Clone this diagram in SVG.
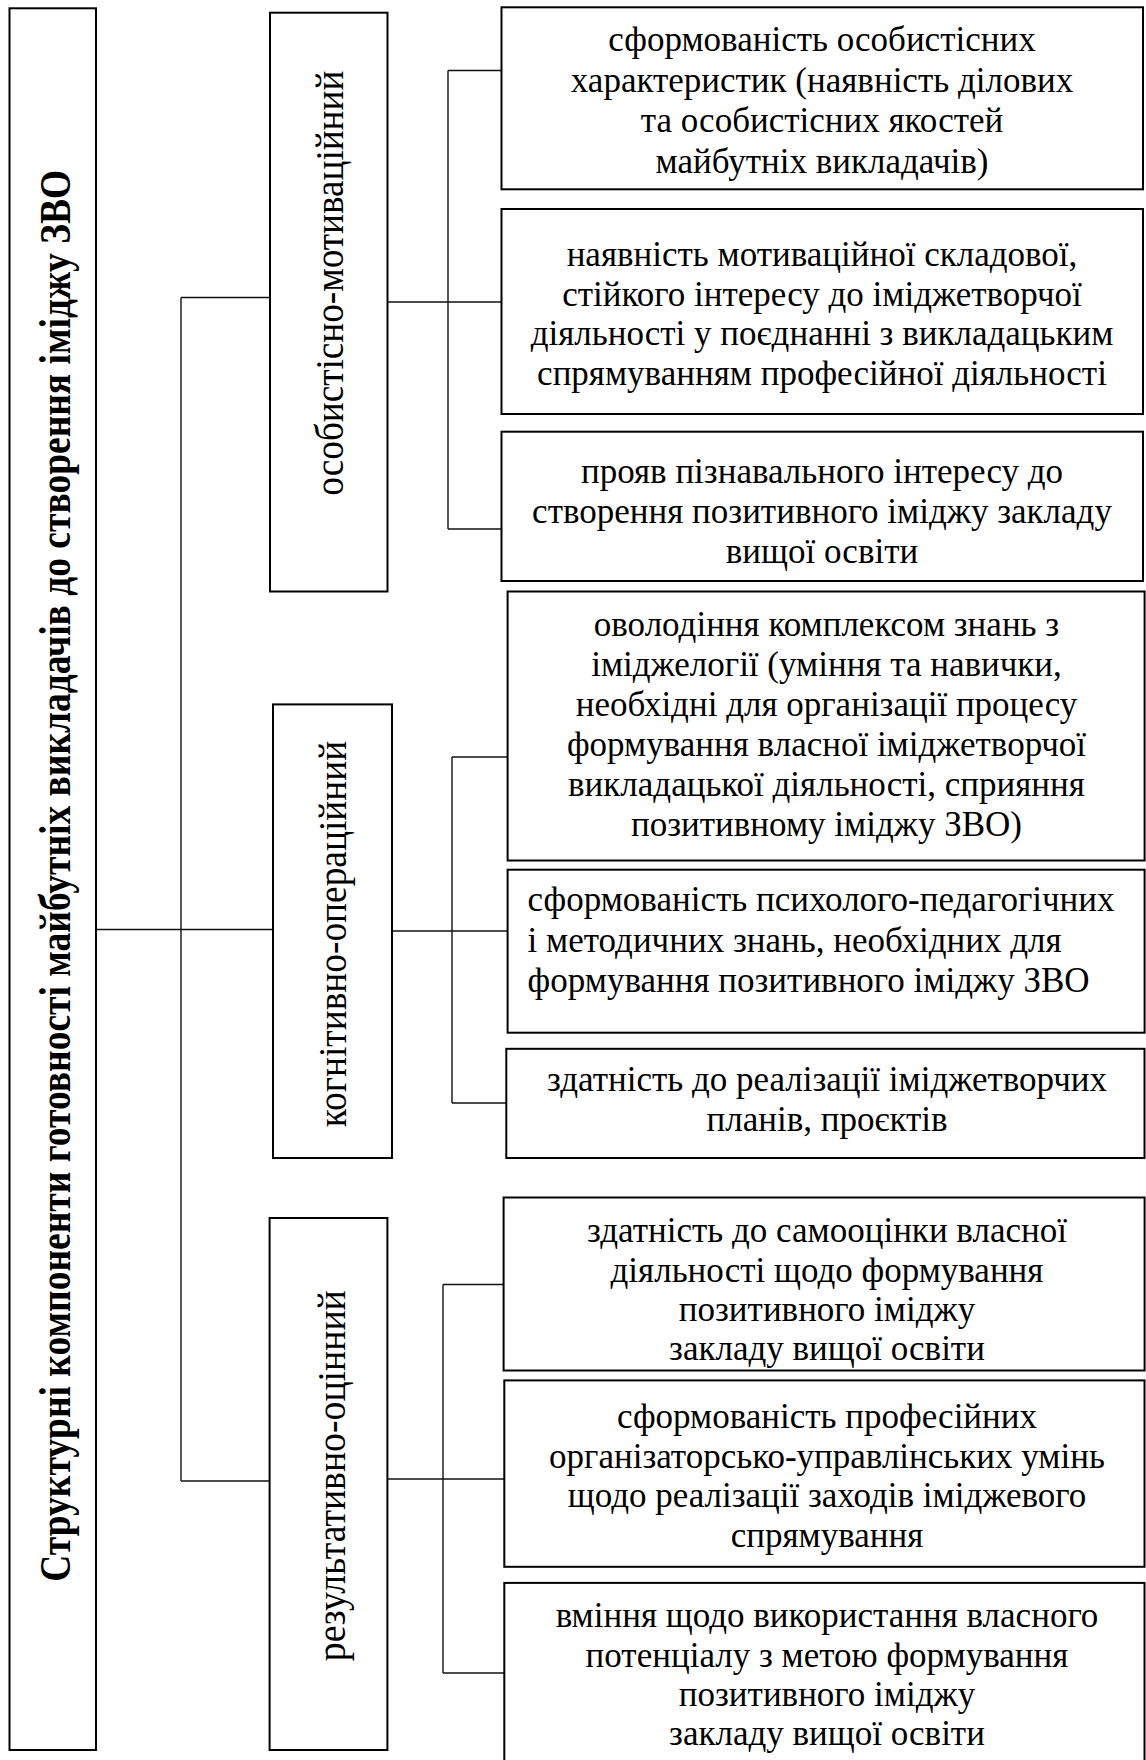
<svg xmlns="http://www.w3.org/2000/svg" width="1146" height="1760" viewBox="0 0 1146 1760">
<style>
.box{fill:#fff;stroke:#000;stroke-width:2}
.ln{fill:none;stroke:#111;stroke-width:1.4}
.t{font-family:"Liberation Serif","Times New Roman",serif;font-size:35px;fill:#000;text-anchor:middle}
.tl{text-anchor:start}
.lab{font-family:"Liberation Serif","Times New Roman",serif;font-size:40px;fill:#000;text-anchor:middle}
.ttl{font-family:"Liberation Serif","Times New Roman",serif;font-size:44px;font-weight:bold;fill:#000;text-anchor:middle}
</style>
<rect width="1146" height="1760" fill="#fff"/>
<g id="connectors">
<path class="ln" d="M96 929.5H272"/>
<path class="ln" d="M181 297.5V1481"/>
<path class="ln" d="M181 297.5H270"/>
<path class="ln" d="M181 1481H270"/>
<path class="ln" d="M387.5 302H502"/>
<path class="ln" d="M448 70.5V529"/>
<path class="ln" d="M448 70.5H501.5"/>
<path class="ln" d="M448 529H502"/>
<path class="ln" d="M392 931H507.5"/>
<path class="ln" d="M452 757V1103"/>
<path class="ln" d="M452 757H507.5"/>
<path class="ln" d="M452 1103H506.5"/>
<path class="ln" d="M387.5 1479H504"/>
<path class="ln" d="M443 1284.5V1673"/>
<path class="ln" d="M443 1284.5H503.5"/>
<path class="ln" d="M443 1673H504.5"/>
</g>
<g id="title">
<rect class="box" x="9.5" y="8.3" width="86.5" height="1741.7"/>
<text class="ttl" transform="translate(69.5,875.8) rotate(-90)" textLength="1412" lengthAdjust="spacingAndGlyphs">Структурні компоненти готовності майбутніх викладачів до створення іміджу ЗВО</text>
</g>
<g id="compA">
<rect class="box" x="270" y="12.7" width="117.5" height="578.8"/>
<text class="lab" transform="translate(343,283.2) rotate(-90)" textLength="425" lengthAdjust="spacingAndGlyphs">особистісно-мотиваційний</text>
</g>
<g id="compB">
<rect class="box" x="273" y="704.4" width="119" height="453.6"/>
<text class="lab" transform="translate(346,934) rotate(-90)" textLength="386.5" lengthAdjust="spacingAndGlyphs">когнітивно-операційний</text>
</g>
<g id="compC">
<rect class="box" x="269.6" y="1218" width="117.8" height="532"/>
<text class="lab" transform="translate(344.5,1475.7) rotate(-90)" textLength="371" lengthAdjust="spacingAndGlyphs">результативно-оцінний</text>
</g>
<g id="a1">
<rect class="box" x="501.5" y="7.3" width="641.5" height="182"/>
<text class="t"><tspan x="822" y="51">сформованість особистісних</tspan><tspan x="822" y="91.5">характеристик (наявність ділових</tspan><tspan x="822" y="132">та особистісних якостей</tspan><tspan x="822" y="172.5">майбутніх викладачів)</tspan></text>
</g>
<g id="a2">
<rect class="box" x="501.5" y="209" width="641.5" height="205"/>
<text class="t"><tspan x="822" y="266">наявність мотиваційної складової,</tspan><tspan x="822" y="305.5">стійкого інтересу до іміджетворчої</tspan><tspan x="822" y="345">діяльності у поєднанні з викладацьким</tspan><tspan x="822" y="385">спрямуванням професійної діяльності</tspan></text>
</g>
<g id="a3">
<rect class="box" x="501.5" y="431.7" width="641.5" height="149.3"/>
<text class="t"><tspan x="822" y="483">прояв пізнавального інтересу до</tspan><tspan x="822" y="523">створення позитивного іміджу закладу</tspan><tspan x="822" y="563">вищої освіти</tspan></text>
</g>
<g id="b1">
<rect class="box" x="507.6" y="591.5" width="637" height="269"/>
<text class="t"><tspan x="826.5" y="635.5">оволодіння комплексом знань з</tspan><tspan x="826.5" y="675.7">іміджелогії (уміння та навички,</tspan><tspan x="826.5" y="716">необхідні для організації процесу</tspan><tspan x="826.5" y="756">формування власної іміджетворчої</tspan><tspan x="826.5" y="796">викладацької діяльності, сприяння</tspan><tspan x="826.5" y="836.4">позитивному іміджу ЗВО)</tspan></text>
</g>
<g id="b2">
<rect class="box" x="507.6" y="869.7" width="637" height="163"/>
<text class="t tl"><tspan x="527.6" y="911">сформованість психолого-педагогічних</tspan><tspan x="527.6" y="951.5">і методичних знань, необхідних для</tspan><tspan x="527.6" y="992">формування позитивного іміджу ЗВО</tspan></text>
</g>
<g id="b3">
<rect class="box" x="506.3" y="1048.8" width="638.2" height="109.2"/>
<text class="t"><tspan x="827" y="1091">здатність до реалізації іміджетворчих</tspan><tspan x="827" y="1131">планів, проєктів</tspan></text>
</g>
<g id="c1">
<rect class="box" x="503.6" y="1197.5" width="641" height="173"/>
<text class="t"><tspan x="827" y="1242">здатність до самооцінки власної</tspan><tspan x="827" y="1281.5">діяльності щодо формування</tspan><tspan x="827" y="1320.7">позитивного іміджу</tspan><tspan x="827" y="1360">закладу вищої освіти</tspan></text>
</g>
<g id="c2">
<rect class="box" x="504.3" y="1380.4" width="640.2" height="186.4"/>
<text class="t"><tspan x="827" y="1428">сформованість професійних</tspan><tspan x="827" y="1467.5">організаторсько-управлінських умінь</tspan><tspan x="827" y="1506.5">щодо реалізації заходів іміджевого</tspan><tspan x="827" y="1546.5">спрямування</tspan></text>
</g>
<g id="c3">
<rect class="box" x="504.3" y="1582.9" width="640.2" height="180"/>
<text class="t"><tspan x="827" y="1627">вміння щодо використання власного</tspan><tspan x="827" y="1666.5">потенціалу з метою формування</tspan><tspan x="827" y="1705.5">позитивного іміджу</tspan><tspan x="827" y="1745">закладу вищої освіти</tspan></text>
</g>
</svg>
